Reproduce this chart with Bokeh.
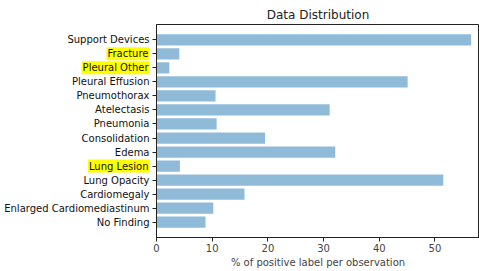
from bokeh.plotting import figure
from bokeh.models import Range1d, FixedTicker, ColumnDataSource
from bokeh.layouts import row
from bokeh.embed import file_html
from bokeh.resources import INLINE

# Data (bottom to top)
categories = ["No Finding", "Enlarged Cardiomediastinum", "Cardiomegaly", "Lung Opacity",
              "Lung Lesion", "Edema", "Consolidation", "Pneumonia", "Atelectasis",
              "Pneumothorax", "Pleural Effusion", "Pleural Other", "Fracture", "Support Devices"]
values = [8.8, 10.2, 15.8, 51.5, 4.2, 32.1, 19.5, 10.8, 31.1, 10.6, 45.1, 2.3, 4.1, 56.5]
highlighted = ["Fracture", "Pleural Other", "Lung Lesion"]
x_ticks = [0, 10, 20, 30, 40, 50]

FONT = "DejaVu Sans"
positions = list(range(len(categories)))
yr = Range1d(-1.09, len(categories) - 1 + 1.09)

H = 271
TOP = 24
BOTTOM = 34

# ---- main chart ----
p = figure(width=327, height=H, output_backend="svg", toolbar_location=None,
           x_range=Range1d(0, 58.0), y_range=yr,
           title="Data Distribution", min_border_left=4, min_border_right=0,
           min_border_top=TOP, min_border_bottom=BOTTOM)

p.hbar(y=positions, right=values, left=0, height=0.8,
       fill_color="#1f77b4", fill_alpha=0.5, line_color=None)

p.title.text_font = FONT
p.title.text_font_size = "12px"
p.title.text_font_style = "normal"
p.title.align = "center"
p.title.text_color = "#222222"
p.title.standoff = 5

p.xgrid.visible = False
p.ygrid.visible = False
p.outline_line_color = "#222222"
p.outline_line_width = 1

xa = p.xaxis[0]
xa.ticker = FixedTicker(ticks=x_ticks)
xa.axis_label = "% of positive label per observation"
xa.axis_label_text_font = FONT
xa.axis_label_text_font_size = "10px"
xa.axis_label_text_font_style = "normal"
xa.axis_label_standoff = 2
xa.major_label_text_font = FONT
xa.major_label_text_font_size = "10px"
xa.major_label_standoff = 2
xa.major_tick_out = 4
xa.major_tick_in = 0
xa.minor_tick_out = 0
xa.minor_tick_in = 0
xa.axis_line_color = "#222222"
xa.major_tick_line_color = "#222222"

ya = p.yaxis[0]
ya.ticker = FixedTicker(ticks=positions)
ya.major_label_overrides = {i: "" for i in positions}
ya.major_label_standoff = 0
ya.major_tick_out = 4
ya.major_tick_in = 0
ya.minor_tick_out = 0
ya.minor_tick_in = 0
ya.axis_line_color = "#222222"
ya.major_tick_line_color = "#222222"

# ---- category label column ----
lab = figure(width=152, height=H, output_backend="svg", toolbar_location=None,
             x_range=Range1d(0, 1), y_range=yr, x_axis_type=None, y_axis_type=None,
             min_border_left=0, min_border_right=0,
             min_border_top=TOP, min_border_bottom=BOTTOM)
lab.outline_line_color = None
lab.xgrid.visible = False
lab.ygrid.visible = False

plain = ColumnDataSource(dict(
    y=[i for i, c in zip(positions, categories) if c not in highlighted],
    t=[c for c in categories if c not in highlighted],
    x=[1] * (len(categories) - len(highlighted))))
hl = ColumnDataSource(dict(
    y=[i for i, c in zip(positions, categories) if c in highlighted],
    t=[c for c in categories if c in highlighted],
    x=[1] * len(highlighted)))

lab.text(x="x", y="y", text="t", source=plain, x_offset=-3,
         text_align="right", text_baseline="middle",
         text_font={"value": FONT},
         text_font_size="10px", text_color="#111111")
lab.text(x="x", y="y", text="t", source=hl, x_offset=-3,
         text_align="right", text_baseline="middle",
         text_font={"value": FONT},
         text_font_size="10px", text_color="#111111",
         background_fill_color="#ffff00", padding=1)

layout = row(lab, p)
open("out.html", "w").write(file_html(layout, INLINE))
